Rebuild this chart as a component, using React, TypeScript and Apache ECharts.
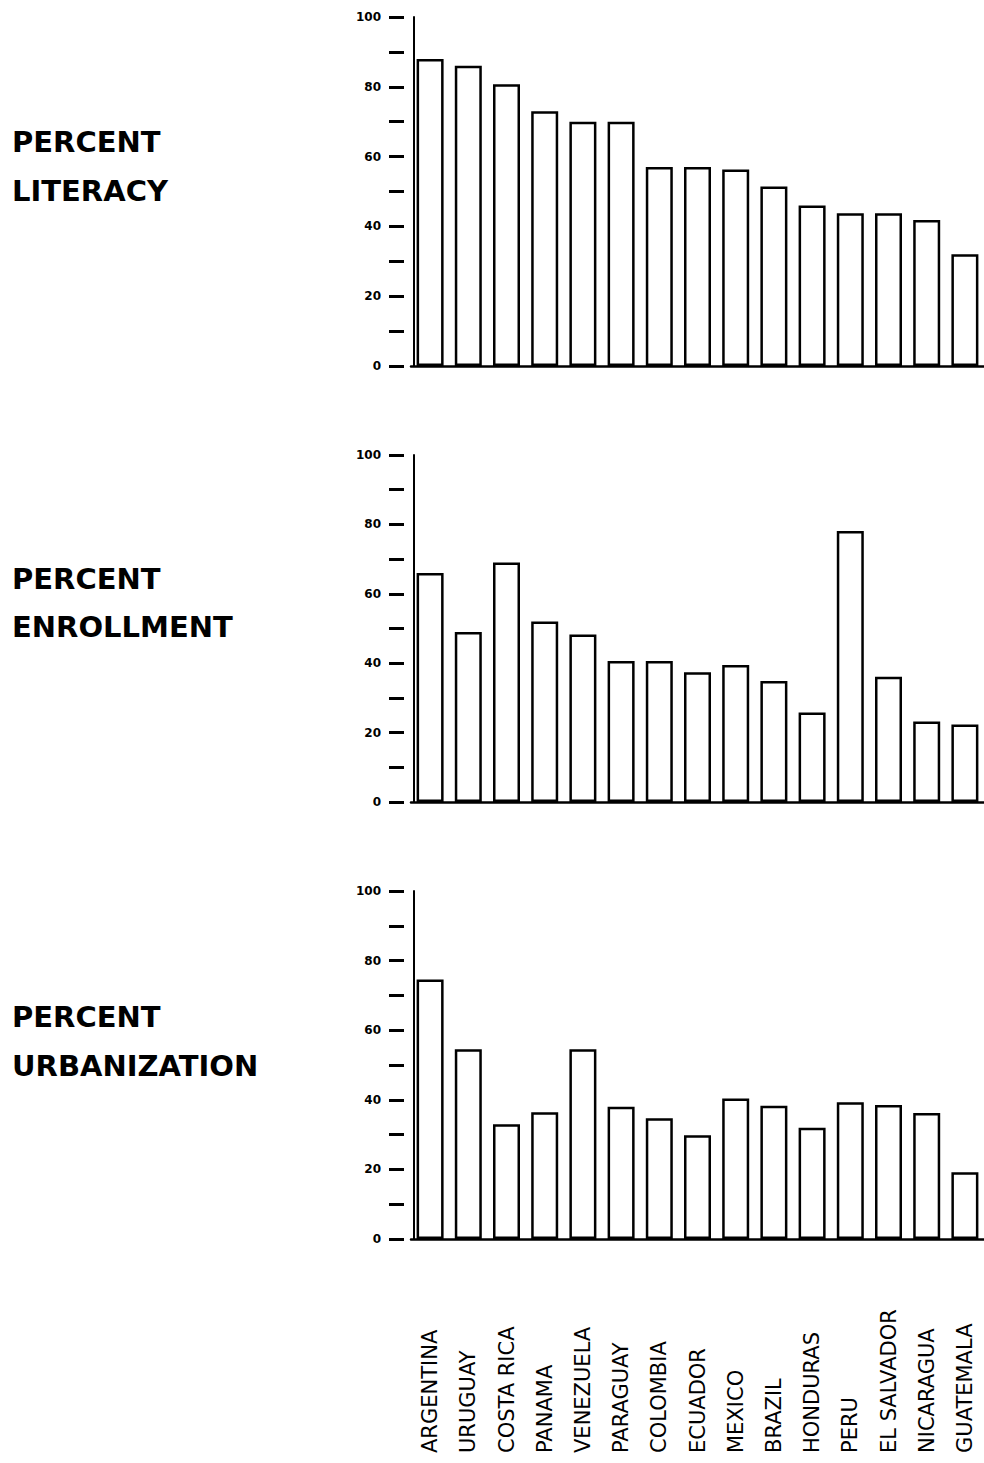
import React, { useEffect, useRef } from "react";
import * as echarts from "echarts";

const categories = [
  "ARGENTINA",
  "URUGUAY",
  "COSTA RICA",
  "PANAMA",
  "VENEZUELA",
  "PARAGUAY",
  "COLOMBIA",
  "ECUADOR",
  "MEXICO",
  "BRAZIL",
  "HONDURAS",
  "PERU",
  "EL SALVADOR",
  "NICARAGUA",
  "GUATEMALA",
];

const literacy = [88, 86, 80.7, 73, 70, 70, 57, 57, 56.3, 51.4, 46, 43.8, 43.8, 41.8, 32];
const enrollment = [66, 49, 69, 52, 48.3, 40.6, 40.6, 37.4, 39.5, 34.9, 25.8, 78.1, 36.1, 23.2, 22.3];
const urbanization = [74.6, 54.5, 33, 36.4, 54.5, 38, 34.7, 29.8, 40.4, 38.3, 32, 39.3, 38.5, 36.2, 19.2];

const yTickLabels = [0, 20, 40, 60, 80, 100];

const panelTitles = [
  ["PERCENT", "LITERACY"],
  ["PERCENT", "ENROLLMENT"],
  ["PERCENT", "URBANIZATION"],
];

const FONT = "DejaVu Sans";

export default function App() {
  const ref = useRef<HTMLDivElement>(null);

  useEffect(() => {
    const chart = echarts.init(ref.current!, null, { renderer: "svg" });
    const panels = [literacy, enrollment, urbanization];
    const tops = [17, 455, 891];
    const heights = [349, 347, 348];
    const titleY = [
      [142, 191],
      [579, 627],
      [1017, 1066],
    ];

    const grids: any[] = [];
    const xAxes: any[] = [];
    const yAxes: any[] = [];
    const series: any[] = [];
    const graphics: any[] = [];

    panels.forEach((data, i) => {
      grids.push({ left: 411, width: 573, top: tops[i], height: heights[i], outerBoundsMode: "none" });
      xAxes.push({
        type: "category",
        gridIndex: i,
        position: "bottom",
        data: categories,
        axisLine: { show: true, onZero: false, lineStyle: { color: "#000", width: 2.5 } },
        axisTick: { show: false },
        axisLabel: { show: false },
        splitLine: { show: false },
      });
      // axis line
      yAxes.push({
        type: "value",
        gridIndex: i,
        position: "left",
        min: 0,
        max: 100,
        interval: 10,
        offset: -3,
        axisLine: { show: true, lineStyle: { color: "#000", width: 2 } },
        axisTick: { show: false },
        axisLabel: { show: false },
        splitLine: { show: false },
      });
      // detached ticks + labels
      yAxes.push({
        type: "value",
        gridIndex: i,
        position: "left",
        min: 0,
        max: 100,
        interval: 10,
        offset: 7,
        axisLine: { show: false },
        axisTick: { show: true, length: 15, lineStyle: { color: "#000", width: 3 } },
        axisLabel: {
          margin: 23,
          fontSize: 12,
          fontWeight: "bold",
          color: "#000",
          fontFamily: FONT,
          formatter: (v: number) => (yTickLabels.includes(v) ? String(v) : ""),
        },
        splitLine: { show: false },
      });
      series.push({
        type: "bar",
        xAxisIndex: i,
        yAxisIndex: 2 * i,
        data,
        barWidth: 27,
        itemStyle: { color: "#fff", borderColor: "#000", borderWidth: 2.5 },
        silent: true,
      });
      panelTitles[i].forEach((t, j) => {
        graphics.push({
          type: "text",
          x: 12,
          y: titleY[i][j],
          style: {
            text: t,
            fontSize: 29,
            fontWeight: "bold",
            fontFamily: FONT,
            fill: "#000",
            verticalAlign: "middle",
            align: "left",
          },
        });
      });
    });

    // category labels grid at the bottom
    grids.push({ left: 411, width: 573, top: 1455, height: 1, outerBoundsMode: "none" });
    xAxes.push({
      type: "category",
      gridIndex: 3,
      position: "top",
      data: categories,
      axisLine: { show: false },
      axisTick: { show: false },
      axisLabel: {
        rotate: 90,
        margin: 2,
        interval: 0,
        fontSize: 21,
        color: "#000",
        fontFamily: FONT,
      },
      splitLine: { show: false },
    });
    yAxes.push({ type: "value", gridIndex: 3, show: false });

    chart.setOption({
      animation: false,
      backgroundColor: "#fff",
      grid: grids,
      xAxis: xAxes,
      yAxis: yAxes,
      series,
      graphic: graphics,
    });
    return () => chart.dispose();
  }, []);

  return (
    <div
      ref={ref}
      style={{ position: "absolute", left: 0, top: 0, width: 984, height: 1463 }}
    />
  );
}
